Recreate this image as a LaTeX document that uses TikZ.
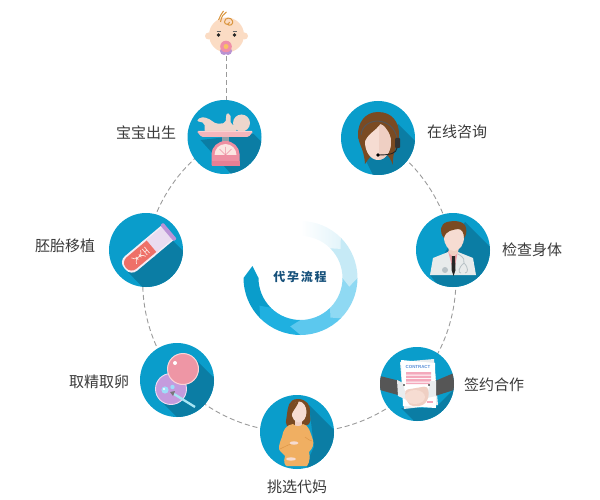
\documentclass[tikz,border=0pt]{standalone}
\usepackage{fontspec}
\setmainfont{Noto Sans CJK SC}
\newfontfamily\titlefont[LetterSpace=14]{Noto Sans CJK SC}
\newfontfamily\latinsans{Liberation Sans}
\usetikzlibrary{backgrounds}
\definecolor{ballblue}{HTML}{0A9DCB}
\definecolor{castblue}{HTML}{0B7DA4}
\definecolor{dashgray}{HTML}{9A9A9A}
\definecolor{labelgray}{HTML}{3A3A3A}
\definecolor{hairbrown}{HTML}{7A4A22}
\definecolor{skinlight}{HTML}{F6DCD2}
\definecolor{skindark}{HTML}{EFCFC3}
\definecolor{pinkb}{HTML}{EE8FA2}
\definecolor{babyskin}{HTML}{FBDCC4}
\definecolor{babyhair}{HTML}{D9953E}
\definecolor{pacipurple}{HTML}{B892D2}
\definecolor{pacipink}{HTML}{F08FA8}
\definecolor{paciorange}{HTML}{F8C264}
\definecolor{babybody}{HTML}{EDD6CC}
\definecolor{traypink}{HTML}{F4B6BC}
\definecolor{traylight}{HTML}{FAD2D2}
\definecolor{stemgray}{HTML}{8FA0A8}
\definecolor{dialwhite}{HTML}{FBE6E2}
\definecolor{scalebar}{HTML}{E77F94}
\definecolor{coatgray}{HTML}{E8EBEB}
\definecolor{shirtpink}{HTML}{EFA0A8}
\definecolor{stethgray}{HTML}{B8C2C6}
\definecolor{papergray}{HTML}{E9ECEE}
\definecolor{contractblue}{HTML}{5A8FD8}
\definecolor{stripepink}{HTML}{F4A9BC}
\definecolor{armgray}{HTML}{565656}
\definecolor{dressorange}{HTML}{F0AF62}
\definecolor{dressline}{HTML}{DD9647}
\definecolor{eggpurple}{HTML}{C49BDD}
\definecolor{eggring}{HTML}{EEDDF2}
\definecolor{eggpink}{HTML}{EE96A5}
\definecolor{pinkring}{HTML}{FBD5D8}
\definecolor{bubble}{HTML}{9FDDF8}
\definecolor{pipette}{HTML}{A8E6F5}
\definecolor{tipgray}{HTML}{777777}
\definecolor{glass}{HTML}{EADCF0}
\definecolor{glassrim}{HTML}{F4EEF6}
\definecolor{liquid}{HTML}{EE7068}
\definecolor{capviolet}{HTML}{BB93D6}
\definecolor{dnawhite}{HTML}{FBE2DC}
\definecolor{titleblue}{HTML}{15507A}
\definecolor{seg5}{HTML}{1FB0E0}
\definecolor{seg4}{HTML}{5CC8EE}
\definecolor{seg3}{HTML}{8FD9F3}
\definecolor{seg2}{HTML}{C6EAF6}
\definecolor{seg1}{HTML}{E3F4FA}
\tikzset{
  ball/.style={circle,fill=ballblue,minimum size=74pt,inner sep=0pt},
  steplabel/.style={font=\fontsize{15pt}{17pt}\selectfont,text=labelgray,inner sep=0pt},
  linkline/.style={draw=dashgray,line width=0.9pt,dash pattern=on 5pt off 3pt},
  linkarc/.style={linkline,looseness=0.9},
  cast/.style={fill=castblue}
}
\newcommand{\ringseg}[4]{%
  \fill[#1] (#2:42) -- (#2:57) arc[start angle=#2,end angle=#3,radius=57] -- (#4:49.5) -- (#3:42) arc[start angle=#3,end angle=#2,radius=42] -- cycle;}
\begin{document}
\begin{tikzpicture}[x=1pt,y=1pt,yscale=-1]
\useasboundingbox (0,0) rectangle (600,500);
% nodes
\node[ball] (weigh) at (224.5,137) {};
\node[ball] (consult) at (378,138) {};
\node[ball] (doctor) at (453,250) {};
\node[ball] (contract) at (417,384) {};
\node[ball] (mother) at (297,432) {};
\node[ball] (eggs) at (177,380) {};
\node[ball] (tube) at (146,250) {};
\node[circle,minimum size=40pt,inner sep=0pt] (babyface) at (226.5,36) {};
\node[steplabel] (l1) at (146,133) {宝宝出生};
\node[steplabel] (l2) at (457,132) {在线咨询};
\node[steplabel] (l3) at (532,250) {检查身体};
\node[steplabel] (l4) at (494,385) {签约合作};
\node[steplabel] (l5) at (297,487) {挑选代妈};
\node[steplabel] (l6) at (99,382) {取精取卵};
\node[steplabel] (l7) at (65,246) {胚胎移植};
% connectors
\begin{pgfonlayer}{background}
\draw[linkarc] (consult.center) to[bend right=25] (doctor.center);
\draw[linkarc] (doctor.center) to[bend right=26] (contract.center);
\draw[linkarc] (contract.center) to[bend right=24] (mother.center);
\draw[linkarc] (mother.center) to[bend right=24] (eggs.center);
\draw[linkarc] (eggs.center) to[bend right=25] (tube.center);
\draw[linkarc] (tube.center) to[bend right=26] (weigh.center);
\draw[linkline] (babyface.south) -- (babyface.south |- weigh.north);
\end{pgfonlayer}
% baby face
\begin{scope}[shift={(babyface.center)}]
\fill[babyskin] (-18,0) circle (3.5) (18,0) circle (3.5);
\fill[babyskin] (0,-1) circle (17.5);
\fill[black!85] (-8,-1) circle (1.8) (8,-1) circle (1.8);
\draw[black!60,line width=0.4pt] (-10,-5) -- (-6,-5) (6,-5) -- (10,-5);
\draw[babyhair,line width=1pt] (0,-12) .. controls (4,-9) and (7,-12) .. (6,-15) .. controls (5,-19) and (-2,-19) .. (-2,-14) .. controls (-2,-11) and (3,-11) .. (3,-14) (-6,-14) .. controls (-5,-20) and (-3,-22) .. (0,-24) (-8,-16) .. controls (-6,-20) and (-5,-23) .. (-3,-25);
\fill[pacipurple] (-2.5,15) circle (4) (1.5,15) circle (4) (-0.5,14) circle (4.5);
\fill[babyskin] (-0.5,13) ellipse (4 and 2);
\fill[pacipink] (-0.5,10.5) circle (5.8);
\fill[paciorange] (-0.5,10.5) circle (2.5);
\end{scope}
% weighing
\begin{scope}[shift={(weigh.center)}]
\clip (0,0) circle (37);
\fill[cast] (-24,3) -- (29,-3) -- (80,48) -- (30,63) -- cycle;
\fill[babybody] (17,-14) circle (8.5);
\fill[babybody,rounded corners=2pt] (-28,-16) -- (-24,-20) -- (-17,-19) -- (-8,-13) -- (1,-14) -- (2,-24) -- (6,-23) -- (6,-13) -- (12,-11) -- (12,-5) -- (-20,-5) -- (-20,-14) -- cycle;
\fill[traypink,rounded corners=1.5pt] (-28,-6) -- (29,-6) -- (24,0) -- (-23,0) -- cycle;
\fill[traylight] (-26,-6) rectangle (27,-4.5);
\fill[stemgray] (-3,0) rectangle (4,8);
\fill[pinkb,rounded corners=1pt] (-13,29) -- (-13,18) arc[start angle=180,end angle=360,radius=14] -- (15,29) -- cycle;
\fill[dialwhite] (-10,18) arc[start angle=180,end angle=360,radius=11] -- cycle;
\draw[pinkb,line width=0.5pt] (1,18) -- (1,10) (1,18) -- (-5,12) (1,18) -- (7,12);
\fill[scalebar] (-13,24) rectangle (15,29);
\end{scope}
% consultant
\begin{scope}[shift={(consult.center)}]
\clip (0,0) circle (37);
\fill[cast] (20,-14) -- (70,36) -- (20,86) -- (-13,21) -- cycle;
\fill[hairbrown] (0,-26) .. controls (-14,-26) and (-20,-14) .. (-20,-4) .. controls (-20,6) and (-14,10) .. (-13,26) .. controls (-9,20) and (-6,16) .. (-5,16) -- (8,16) .. controls (11,18) and (13,22) .. (15,27) .. controls (14,12) and (21,8) .. (21,-4) .. controls (21,-16) and (14,-26) .. (0,-26) -- cycle;
\fill[skinlight] (0,4) ellipse (13 and 18);
\begin{scope}\clip (1,-20) rectangle (20,30); \fill[skindark] (0,4) ellipse (13 and 18); \end{scope}
\fill[hairbrown] (3,-15) .. controls (-3,-6) and (-11,-5) .. (-14,6) -- (-20,0) -- (-10,-20) -- cycle;
\fill[hairbrown] (3,-15) .. controls (9,-10) and (13,-4) .. (14,6) -- (20,0) -- (10,-20) -- cycle;
\draw[armgray,line width=1pt] (-17,-3) .. controls (-15,-22) and (15,-22) .. (19,0);
\fill[black!80,rounded corners=1pt] (17,0) rectangle (22,10);
\draw[black!85,line width=0.9pt] (19,10) .. controls (18,15) and (14,17) .. (0,17);
\fill[black] (0,17) circle (1.9);
\end{scope}
% doctor
\begin{scope}[shift={(doctor.center)}]
\clip (0,0) circle (37);
\fill[cast] (12,-28) -- (70,30) -- (20,80) -- (-23,25) -- cycle;
\fill[coatgray] (-23,25) -- (-20,8) -- (-5,2) -- (5,2) -- (20,8) -- (23,25) -- cycle;
\fill[shirtpink] (-5,1) -- (5,1) -- (2,16) -- (-1,16) -- cycle;
\fill[skindark] (-5,-6) -- (6,-6) -- (5,3) -- (0,7) -- (-4,3) -- cycle;
\fill[skinlight] (1,-13) ellipse (10 and 14);
\fill[black!85] (-1,6) -- (2,6) -- (2.5,20) -- (0.5,26) -- (-1.5,20) -- cycle;
\fill[hairbrown] (-9,-12) .. controls (-14,-18) and (-13,-26) .. (-6,-28) .. controls (2,-30) and (12,-29) .. (13,-22) .. controls (14,-18) and (13,-14) .. (11,-12) .. controls (11,-17) and (9,-21) .. (5,-21) .. controls (0,-20) and (-7,-20) .. (-9,-12) -- cycle;
\draw[stethgray,line width=0.8pt] (5,4) .. controls (12,8) and (11,10) .. (11,13) (11,13) .. controls (5,18) and (5,23) .. (8,23) (11,13) .. controls (16,18) and (15,23) .. (12,23);
\fill[stethgray] (-8,20) circle (3);
\end{scope}
% contract
\begin{scope}[shift={(contract.center)}]
\clip (0,0) circle (37);
\fill[cast] (-16,24) -- (18,24) -- (37,5) -- (60,40) -- (20,60) -- cycle;
\fill[papergray] (-17,-22) -- (17,-25) -- (21,21) -- (-13,25) -- cycle;
\fill[white] (-16,-24) -- (18,-21) -- (19,24) -- (-14,22) -- cycle;
\node[inner sep=0pt,text=contractblue,font=\latinsans\bfseries\fontsize{4.4pt}{5pt}\selectfont] (contracttitle) at (1,-17) {CONTRACT};
\fill[stripepink] (-11,-12) rectangle (14,-9.5) (-11,-8.5) rectangle (14,-6) (-11,-5) rectangle (14,-2.5) (-11,-1.5) rectangle (14,0);
\fill[armgray] (-37,-8) -- (-17,-3) -- (-19,11) -- (-37,6) -- cycle;
\fill[armgray] (37,-11) -- (18,-3) -- (18,12) -- (37,6) -- cycle;
\fill[papergray] (-20,-4) -- (-14,-1) -- (-10,16) -- (-19,12) -- cycle;
\fill[papergray] (13,-3) -- (19,-3) -- (19,12) -- (10,14) -- cycle;
\fill[black] (-13,1) circle (0.9) (12,1) circle (0.9);
\fill[skindark,rounded corners=4pt] (-13,6) -- (11,2) -- (12,14) -- (6,22) -- (-8,22) -- cycle;
\fill[skinlight] (-2,13) ellipse (10 and 7);
\fill[stripepink] (10,17) rectangle (16,18.5);
\end{scope}
% mother
\begin{scope}[shift={(mother.center)}]
\clip (0,0) circle (37);
\fill[cast] (12,-27) -- (70,31) -- (20,81) -- (9,32) -- (17,15) -- cycle;
\fill[hairbrown] (1,-33) .. controls (-9,-33) and (-9,-24) .. (-10,-18) .. controls (-11,-10) and (-12,-8) .. (-10,-6) .. controls (-4,-5) and (8,-5) .. (12,-8) .. controls (15,-12) and (12,-16) .. (13,-20) .. controls (14,-27) and (9,-33) .. (1,-33) -- cycle;
\fill[skindark] (-2,-12) rectangle (5,-5);
\fill[skinlight] (2,-20) ellipse (7.5 and 10.5);
\fill[hairbrown] (2,-32) .. controls (1,-26) and (-3,-24) .. (-6,-16) -- (-9,-24) -- cycle;
\fill[dressorange] (-4,-8) .. controls (-11,-7) and (-14,-2) .. (-15,5) .. controls (-18,12) and (-19,17) .. (-17,19) -- (-12,24) .. controls (-14,30) and (-12,34) .. (-10,34) -- (10,34) .. controls (13,30) and (13,24) .. (12,20) .. controls (16,16) and (17,12) .. (16,8) .. controls (13,0) and (12,-7) .. (6,-8) .. controls (3,-5) and (-1,-5) .. (-4,-8) -- cycle;
\draw[dressline,line width=0.5pt] (-17,17) .. controls (-11,14) and (-7,12) .. (-3,11) (15,9) .. controls (11,8) and (10,6) .. (8,5);
\fill[skinlight] (-3,11) ellipse (4.5 and 1.7);
\fill[skinlight] (-6,27) ellipse (5 and 1.7);
\end{scope}
% eggs
\begin{scope}[shift={(eggs.center)}]
\clip (0,0) circle (37);
\fill[cast] (17,-22) -- (70,31) -- (20,57) -- (-17,20) -- cycle;
\draw[fill=eggpurple,draw=eggring,line width=0.9pt] (-6,9) circle (15.5);
\draw[fill=eggpink,draw=pinkring,line width=1pt] (6,-11) circle (15.5);
\fill[white] (-2,-17) circle (2);
\fill[bubble] (-12,10) circle (3.6);
\fill[bubble] (-4.5,7) circle (2.2);
\fill[white] (-13,9) circle (1.2);
\draw[pipette,line width=2.3pt] (-3,14) -- (18,27);
\fill[tipgray] (-7,12) -- (-2,11) -- (-4,16) -- cycle;
\end{scope}
% tube
\begin{scope}[shift={(tube.center)}]
\clip (0,0) circle (37);
\fill[cast] (26,-10) -- (76,40) -- (30,72) -- (-18,22) -- cycle;
\begin{scope}[shift={(1,0)},rotate=-40]
\fill[glassrim,rounded corners=8pt] (-29,-9.5) rectangle (10,9.5);
\fill[glassrim] (0,-9.5) rectangle (27,9.5);
\fill[liquid,rounded corners=7pt] (-27.5,-7.5) rectangle (14,7.5);
\fill[glass] (6,-8) rectangle (27,8);
\fill[capviolet,rounded corners=1pt] (26,-10.5) rectangle (30,10.5);
\draw[dnawhite,line width=0.7pt] (-17,-4) .. controls (-13,4) and (-9,-4) .. (-5,4) (-17,4) .. controls (-13,-4) and (-9,4) .. (-5,-4) (-3,-4) -- (-3,4) (0,-4) -- (0,4) (-3,0) -- (0,0) (-13,-2) -- (-13,2) (-9,-2) -- (-9,2);
\end{scope}
\end{scope}
% ring
\begin{scope}[shift={(300.5,278)}]
\ringseg{ballblue}{135}{180}{194}
\ringseg{seg5}{90}{135}{146}
\ringseg{seg4}{45}{90}{102}
\ringseg{seg3}{0}{45}{53}
\ringseg{seg2}{-45}{0}{10}
\path[left color=white,right color=seg1] (-90:42) -- (-90:57) arc[start angle=-90,end angle=-45,radius=57] -- (-36:49.5) -- (-45:42) arc[start angle=-45,end angle=-90,radius=42] -- cycle;
\end{scope}
\node[inner sep=0pt,text=titleblue,font=\titlefont\bfseries\fontsize{12pt}{14pt}\selectfont] (title) at (300,277) {代孕流程};
\end{tikzpicture}
\end{document}
